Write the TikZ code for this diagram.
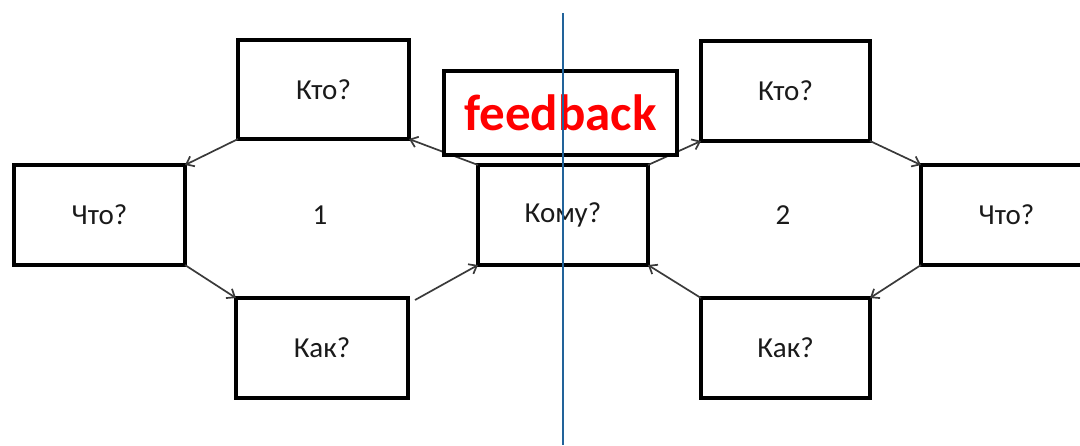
\documentclass[tikz,border=0pt]{standalone}
\usepackage{fontspec}
\setmainfont{Carlito}
\usetikzlibrary{arrows.meta}
\definecolor{txtgray}{HTML}{1A1A1A}
\definecolor{arrgray}{HTML}{3A3A3A}
\definecolor{divblue}{HTML}{22639A}
\tikzset{
  qbox/.style={draw=black, line width=3.3pt, fill=white, minimum width=#1, minimum height=100pt,
     inner sep=0pt, outer sep=0pt, font=\fontsize{29}{32}\selectfont, text=txtgray},
  qbox/.default=171pt,
  plain/.style={inner sep=0pt, font=\fontsize{29}{32}\selectfont, text=txtgray},
  flow/.style={draw=arrgray, line width=1.7pt, -{Straight Barb[length=7pt,width=11pt,line width=1.7pt]}},
  fbbox/.style={draw=black, line width=3.3pt, fill=white, minimum width=233pt, minimum height=84pt,
     inner sep=0pt, outer sep=0pt, font=\fontsize{51}{55}\selectfont\bfseries, text=red},
  divider/.style={draw=divblue, line width=2.8pt}
}
\begin{document}
\begin{tikzpicture}[x=1pt,y=-1pt]
\useasboundingbox (0,0) rectangle (1080,445);
\begin{scope}
\clip (0,0) rectangle (1080,445);
% left group
\node[qbox=171pt, minimum height=99pt] (kto1) at (323.5,89.5) {Кто?};
\node[qbox] (chto1) at (99.5,215) {Что?};
\node[qbox=172pt] (kak1) at (322,348) {Как?};
\node[plain] (n1) at (320,215) {1};
% centre
\node[qbox=170pt] (komu) at (563,215) {Кому?};
% right group
\node[qbox=169pt] (kto2) at (785.5,91) {Кто?};
\node[qbox] (chto2) at (1006.5,215) {Что?};
\node[qbox=169pt] (kak2) at (785.5,348) {Как?};
\node[plain] (n2) at (783,215) {2};
% connectors
\draw[flow] (komu.north west) -- (kto1.south east);
\draw[flow] (kto1.south west) -- (chto1.north east);
\draw[flow] (chto1.south east) -- (kak1.north west);
\coordinate (kak1out) at ([shift={(7,2)}]kak1.north east);
\draw[flow] (kak1out) -- (komu.south west);
\draw[flow] (komu.north east) -- (kto2.south west);
\draw[flow] (kto2.south east) -- (chto2.north west);
\draw[flow] (chto2.south west) -- (kak2.north east);
\draw[flow] (kak2.north west) -- (komu.south east);
% feedback box on top
\node[fbbox] (fb) at (560.5,113) {feedback};
% vertical divider
\coordinate (divtop) at (563,13);
\coordinate (divbot) at (563,445);
\draw[divider] (divtop) -- (divbot);
\end{scope}
\end{tikzpicture}
\end{document}
